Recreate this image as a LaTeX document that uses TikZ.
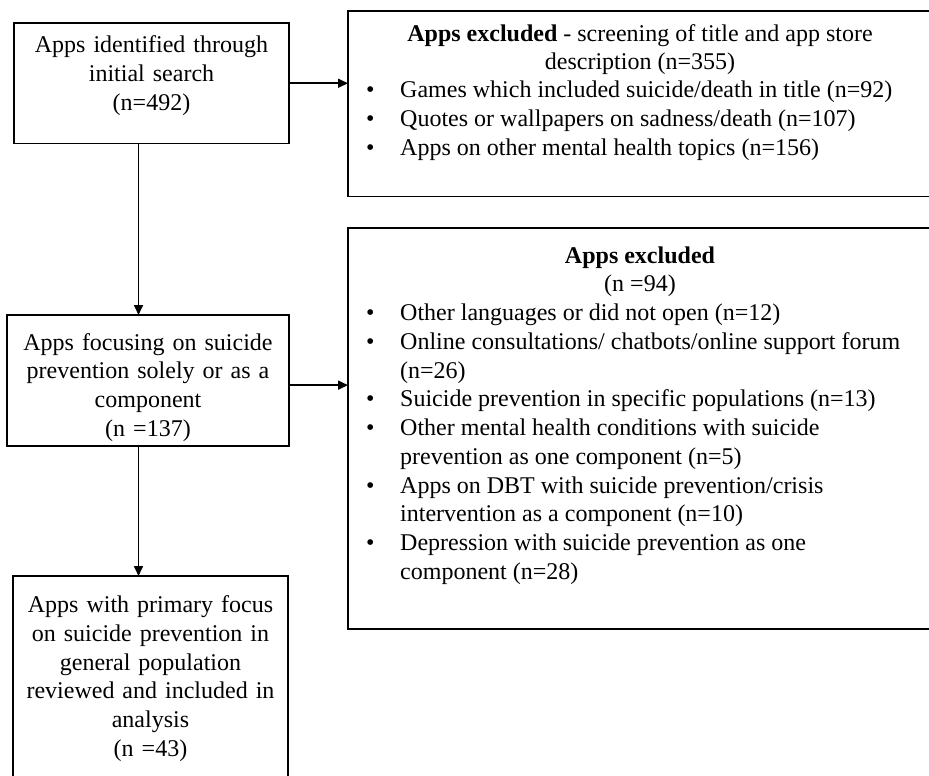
\documentclass[tikz,border=0pt]{standalone}
\usepackage{fontspec}
\setmainfont{Liberation Serif}
\usetikzlibrary{arrows.meta,positioning}
\newcommand{\toppad}[1]{\rule{0pt}{#1pt}}
\newcommand{\botpad}[1]{\rule[-#1pt]{0pt}{#1pt}}

\begin{document}
\begin{tikzpicture}[x=1pt,y=-1pt,
    font=\fontsize{24}{28.75}\selectfont,
    stagebox/.style={draw,line width=1.7pt,inner sep=0pt,outer sep=0pt,align=center,anchor=north},
    exclbox/.style={draw,line width=1.7pt,inner sep=0pt,outer sep=0pt,anchor=north west,minimum width=600pt},
    linetext/.style={inner sep=0pt,anchor=base west},
    flow/.style={line width=1.6pt,-{Triangle[length=10pt,width=9pt]}}]
    \useasboundingbox (0,0) rectangle (929,776);
    \clip (0,0) rectangle (929,776);
    \coordinate (spine) at (138.5,0);

    % left column
    \node[stagebox,text width=275pt] (ident) at (151.5,23)
        {\toppad{30}Apps identified through\\initial search\\(n=492)\botpad{33}};
    \node[stagebox,text width=282pt] (focus) at (148,315)
        {\toppad{35}Apps focusing on suicide\\prevention solely or as a\\component\\(n =137)\botpad{10}};
    \node[stagebox,text width=275pt] (incl) at (150.5,576)
        {\toppad{36.5}Apps with primary focus\\on suicide prevention in\\general population\\reviewed and included in\\analysis\\(n =43)\botpad{40}};

    % right column
    \node[exclbox,minimum height=185.5pt] (screen) at (348,11) {};
    \node[inner sep=0pt,align=center,anchor=north] (screenhead) at (640,11)
        {\toppad{30}\textbf{Apps excluded} - screening of title and app store\\description (n=355)};
    \foreach \b/\t [count=\i from 0,evaluate=\i as \y using 97.7+\i*28.75] in {
        1/{Games which included suicide/death in title (n=92)},
        1/{Quotes or wallpapers on sadness/death (n=107)},
        1/{Apps on other mental health topics (n=156)}
    }{
        \node[linetext] (screen-\i) at (400,\y) {\t};
        \ifnum\b=1 \node[linetext] (screen-dot-\i) at (366,\y) {\textbullet}; \fi
    }

    \node[exclbox,minimum height=401pt] (excl) at (348,228) {};
    \node[inner sep=0pt,align=center,anchor=north] (exclhead) at (640,228)
        {\toppad{35}\textbf{Apps excluded}\\(n =94)};
    \foreach \b/\t [count=\i from 0,evaluate=\i as \y using 320.5+\i*28.75] in {
        1/{Other languages or did not open (n=12)},
        1/{Online consultations/ chatbots/online support forum},
        0/{(n=26)},
        1/{Suicide prevention in specific populations (n=13)},
        1/{Other mental health conditions with suicide},
        0/{prevention as one component (n=5)},
        1/{Apps on DBT with suicide prevention/crisis},
        0/{intervention as a component (n=10)},
        1/{Depression with suicide prevention as one},
        0/{component (n=28)}
    }{
        \node[linetext] (excl-\i) at (400,\y) {\t};
        \ifnum\b=1 \node[linetext] (excl-dot-\i) at (366,\y) {\textbullet}; \fi
    }

    % connectors
    \draw[flow] (ident.south -| spine) -- (focus.north -| spine);
    \draw[flow] (focus.south -| spine) -- (incl.north -| spine);
    \draw[flow] (ident.east) -- (ident.east -| screen.west);
    \draw[flow] ([yshift=-4.5pt]focus.east) coordinate (fo) -- (fo -| excl.west);
\end{tikzpicture}
\end{document}
